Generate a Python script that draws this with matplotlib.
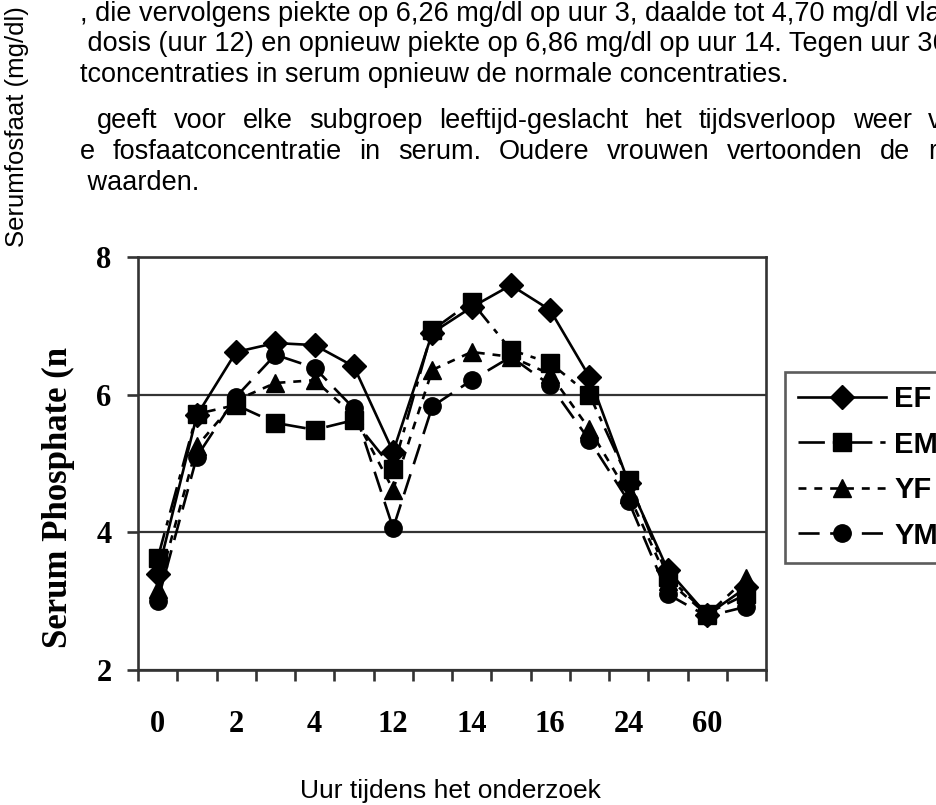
##############################################
### serum phosphate per age/sex subgroup   ###
##############################################
import numpy as np
import matplotlib.pyplot as plt

# hours of the study (only every other sample is labelled on the axis)
tick_labels = ["0", "", "2", "", "4", "", "12", "", "14", "", "16", "", "24", "", "60", ""]

# serum phosphate (mg/dl)
ef = [3.40, 5.70, 6.62, 6.75, 6.72, 6.41, 5.17, 6.90, 7.27, 7.59, 7.23, 6.26, 4.72, 3.45, 2.80, 3.20]
em = [3.62, 5.72, 5.85, 5.59, 5.49, 5.63, 4.92, 6.94, 7.35, 6.65, 6.46, 6.00, 4.76, 3.35, 2.82, 3.10]
yf = [3.18, 5.25, 5.92, 6.17, 6.21, 5.70, 4.62, 6.36, 6.62, 6.55, 6.30, 5.50, 4.55, 3.30, 2.80, 3.33]
ym = [3.00, 5.10, 5.97, 6.58, 6.39, 5.80, 4.06, 5.83, 6.21, 6.55, 6.14, 5.34, 4.45, 3.10, 2.78, 2.92]

# surrounding report text (cut off at the edges like the scan)
para1 = [", die vervolgens piekte op 6,26 mg/dl op uur 3, daalde tot 4,70 mg/dl vla",
         " dosis (uur 12) en opnieuw piekte op 6,86 mg/dl op uur 14. Tegen uur 36",
         "tconcentraties in serum opnieuw de normale concentraties."]
line4 = ["geeft", "voor", "elke", "subgroep", "leeftijd-geslacht", "het", "tijdsverloop", "weer", "v"]
line5 = ["e", "fosfaatconcentratie", "in", "serum.", "Oudere", "vrouwen", "vertoonden", "de", "r"]

W, H = 936, 805
fig = plt.figure(figsize=(W / 100, H / 100), dpi=100)
renderer = fig.canvas.get_renderer()
sans = "Liberation Sans"
serif = "Liberation Serif"


def fy(py):
    return 1 - py / H


def put_text(px, py, s):
    return fig.text(px / W, fy(py), s, family=sans, fontsize=19.5, va="center", ha="left")


def justified(words, x_start, x_last, py):
    # spread words so the first starts at x_start and the cut-off last one at x_last
    texts = [put_text(0, py, w) for w in words]
    widths = [t.get_window_extent(renderer).width for t in texts[:-1]]
    gap = (x_last - x_start - sum(widths)) / (len(words) - 1)
    x = x_start
    for t, w in zip(texts[:-1], widths):
        t.set_x(x / W)
        x += w + gap
    texts[-1].set_x(x_last / W)


put_text(80, 14, para1[0])
put_text(80, 44, para1[1])
put_text(80, 75, para1[2])
justified(line4, 97, 928, 121)
justified(line5, 80, 928, 152)
put_text(80, 183, " waarden.")

fig.text(17 / W, fy(127), "Serumfosfaat (mg/dl)", rotation=90, family=sans,
         fontsize=18.5, va="center", ha="center")

# the chart itself
ax = fig.add_axes([138 / W, 135 / H, 628 / W, 413 / H])
x = np.arange(len(ef))
ax.plot(x, ef, color="black", lw=1.9, ls="-", marker="D", ms=12, label="EF")
ax.plot(x, em, color="black", lw=1.9, ls=(0, (10, 3, 2, 3)), marker="s", ms=12.5, label="EM")
ax.plot(x, yf, color="black", lw=1.9, ls=(0, (3, 3)), marker="^", ms=13, label="YF")
ax.plot(x, ym, color="black", lw=1.9, ls=(0, (8, 4)), marker="o", ms=12.5, label="YM")

ax.set_xlim(-0.5, len(ef) - 0.5)
ax.set_ylim(2, 8)
ax.set_yticks([2, 4, 6, 8])
ax.yaxis.grid(True, color="#333333", lw=1.6)
ax.set_axisbelow(True)
for sp in ax.spines.values():
    sp.set_color("#333333")
    sp.set_linewidth(1.9)

ax.set_xticks(np.arange(-0.5, len(ef), 1))
ax.set_xticklabels([])
ax.set_xticks(x, minor=True)
ax.set_xticklabels(tick_labels, minor=True)
ax.tick_params(axis="x", which="major", length=8, width=1.9, color="#333333", direction="out")
ax.tick_params(axis="x", which="minor", length=0, pad=29)
ax.tick_params(axis="y", length=8, width=1.9, color="#333333", direction="out", pad=11)
for lab in ax.get_xticklabels(minor=True) + ax.get_yticklabels():
    lab.set_family(serif)
    lab.set_fontweight("bold")
    lab.set_fontsize(22)

fig.text(58 / W, fy(497), "Serum Phosphate (n", rotation=90, family=serif,
         fontweight="bold", fontsize=25, va="center", ha="center")

leg = ax.legend(loc="upper left", bbox_to_anchor=(785 / W, fy(372)), bbox_transform=fig.transFigure,
                frameon=True, fancybox=False, edgecolor="#333333", handlelength=3.0,
                handletextpad=0.3, labelspacing=0.6, borderpad=0.45, borderaxespad=0,
                prop={"family": sans, "weight": "bold", "size": 21})
leg.get_frame().set_linewidth(1.9)

fig.text(450 / W, fy(791), "Uur tijdens het onderzoek", family=sans, fontsize=19,
         va="center", ha="center")

plt.savefig("out.png", dpi=100)
plt.close()
